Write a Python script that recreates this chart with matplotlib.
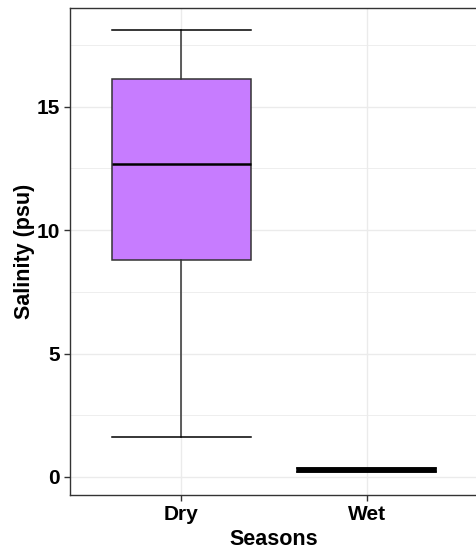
import matplotlib
matplotlib.use("Agg")
import matplotlib.pyplot as plt
from matplotlib.ticker import MultipleLocator

# ── Data ─────────────────────────────────────────────────────────────────────
seasons = ["Dry", "Wet"]
whisker_low = [1.62, 0.20]
q1 = [8.78, 0.21]
median = [12.68, 0.29]
q3 = [16.13, 0.37]
whisker_high = [18.12, 0.38]

FILL = "#C77CFF"
EDGE = "#333333"
GRID = "#EBEBEB"

plt.rcParams["font.family"] = ["Liberation Sans", "DejaVu Sans"]

fig = plt.figure(figsize=(4.76, 5.54), dpi=100)
ax = fig.add_axes([0.147, 0.1065, 0.857, 0.879])

stats = []
for i, name in enumerate(seasons):
    stats.append({
        "label": name,
        "whislo": whisker_low[i],
        "q1": q1[i],
        "med": median[i],
        "q3": q3[i],
        "whishi": whisker_high[i],
        "fliers": [],
    })

positions = list(range(1, len(seasons) + 1))
ax.bxp(stats, positions=positions, widths=0.75, capwidths=0.75,
       patch_artist=True, showfliers=False,
       boxprops=dict(facecolor=FILL, edgecolor=EDGE, linewidth=1.1),
       whiskerprops=dict(color=EDGE, linewidth=1.1),
       capprops=dict(color="black", linewidth=1.1),
       medianprops=dict(color="black", linewidth=1.8),
       zorder=3)

# Wet season values are nearly constant: the box collapses into a thick bar
wet = ax.patches[-1] if ax.patches else None
if wet is not None:
    wet.set_facecolor("black")
    wet.set_edgecolor("black")

ax.set_xlim(0.4, 2.6)
ax.set_ylim(-0.73, 19.0)

ax.yaxis.set_major_locator(MultipleLocator(5))
ax.yaxis.set_minor_locator(MultipleLocator(2.5))
ax.grid(True, which="major", color=GRID, linewidth=1.0, zorder=0)
ax.grid(True, which="minor", axis="y", color=GRID, linewidth=0.6, zorder=0)
ax.set_axisbelow(True)

for side in ["left", "bottom", "top", "right"]:
    ax.spines[side].set_color(EDGE)
    ax.spines[side].set_linewidth(1.0)

ax.tick_params(axis="both", which="major", length=4, width=1.0, color=EDGE,
               labelsize=15, labelcolor="black", pad=3)
ax.tick_params(axis="y", which="minor", length=0)
ax.set_xticks(positions)
ax.set_xticklabels(seasons, fontweight="bold")
for lab in ax.get_yticklabels():
    lab.set_fontweight("bold")

ax.set_xlabel("Seasons", fontsize=15.5, fontweight="bold", labelpad=4)
ax.set_ylabel("Salinity (psu)", fontsize=15.5, fontweight="bold", labelpad=1)

fig.savefig("out.png", dpi=100, facecolor="white")
